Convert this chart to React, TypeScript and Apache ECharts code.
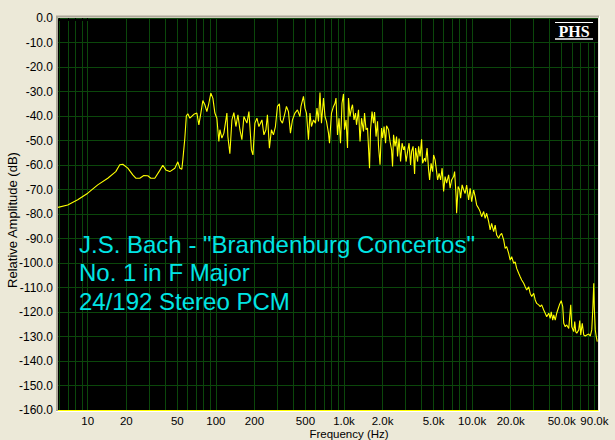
import React, { useEffect, useRef } from 'react';
import * as echarts from 'echarts';

// ---- data (frequency in Hz, relative amplitude in dB) ----
const freqHz: number[] = [
  5.86, 6.98, 8.35, 10, 11.97, 14.33, 16.55, 17.78, 18.77, 20.54, 22.47, 23.71, 25.48, 27.38, 29.43, 31.06, 33.38,
  36.52, 38.54, 40.68, 43.72, 47.83, 50.48, 52.33, 54.25, 55.23, 57.26, 58.82, 60.43, 62.64, 67.32, 71.05,
  73.65, 76.35, 79.15, 82.05, 85.05, 88.17, 91.4, 94.75, 98.22, 101.8, 105.5, 107.5, 111.4, 115.5, 121.9, 124.1,
  128.6, 133.4, 138.2, 143.3, 148.6, 154.0, 159.6, 165.5, 174.7, 181.1, 189.4, 194.6, 201.7, 209.1, 216.7, 228.8,
  237.1, 245.8, 252.5, 261.8, 271.4, 281.3, 291.6, 302.3, 313.4, 319.1, 330.8, 346.0, 355.5, 368.5, 382.0, 396.0,
  414.2, 433.2, 453.2, 461.4, 482.6, 495.8, 509.4, 528.0, 542.5, 557.3, 577.7, 598.9, 615.3, 632.1, 649.4, 667.1,
  691.6, 710.5, 729.9, 756.7, 770.4, 798.6, 827.9, 850.5, 866.0, 889.6, 914.0, 939.0, 964.7, 991.0,
  1009, 1037, 1065, 1084, 1114, 1144, 1165, 1197, 1230, 1252, 1298, 1334, 1370, 1420, 1446, 1486, 1526, 1554, 1582,
  1611, 1655, 1700, 1731, 1778, 1827, 1860, 1911, 1963, 1999, 2054, 2110, 2148, 2227, 2288, 2350, 2393, 2436, 2503,
  2571, 2618, 2690, 2763, 2839, 2916, 2969, 3051, 3134, 3220, 3308, 3368, 3460, 3555, 3619, 3752, 3820, 3924, 4032,
  4105, 4255, 4332, 4451, 4573, 4656, 4783, 4914, 5003, 5140, 5280, 5376, 5523, 5674, 5830, 5989, 6153, 6321, 6553,
  6732, 6916, 7169, 7299, 7499, 7567, 7774, 7986, 8131, 8354, 8582,
  8817, 9058, 9390, 9647, 9910, 10274, 10555, 10843, 11240, 11548, 11864, 12298, 12635, 12980, 13456, 13824, 14202,
  14722, 15125, 15538, 16107, 16548, 17001, 17623, 18105, 18600, 19282, 19809, 20351, 21097, 21674, 22266, 23082,
  23713, 24362, 25254, 25945, 26655, 27631, 28387, 29163, 30232, 31059, 31908, 33077, 33982, 34910, 36190, 37180,
  38197, 39597, 40680, 41418, 42551, 43323, 44508, 45725, 46556, 48261, 49581, 50937, 51862, 53280, 54737, 56743,
  57773, 58820, 59889, 62083, 63209, 64357, 65525, 67926, 69159, 70414, 72340, 74318, 76351, 78439, 81313, 83537,
  85821, 87378, 88964, 89768, 91398, 93057, 94746,
];

const ampDb: number[] = [
  -77.3, -76.3, -74.2, -71.5, -68.1, -65.4, -62.7, -59.9, -59.7, -61.3, -64.0, -65.4, -65.4, -64.3, -64.4, -65.4, -65.4,
  -62.2, -60.1, -62.0, -62.7, -61.3, -58.7, -61.3, -61.7, -57.9, -49.0, -39.9, -39.1, -40.9, -39.3, -38.8,
  -43.6, -38.8, -33.7, -35.4, -38.2, -34.8, -30.7, -32.7, -38.8, -40.9, -50.4, -45.6, -49.0, -47.0, -38.8, -48.4,
  -55.4, -41.6, -38.6, -44.3, -39.5, -45.6, -49.7, -40.2, -42.9, -38.2, -53.8, -55.9, -42.9, -40.9, -44.3, -41.6,
  -47.7, -45.6, -39.5, -53.1, -45.6, -47.7, -44.3, -36.1, -35.0, -41.6, -42.9, -38.8, -36.1, -38.2, -47.0, -41.6,
  -38.8, -37.5, -40.2, -36.1, -32.0, -36.8, -38.8, -49.7, -38.8, -44.3, -41.6, -42.9, -36.8, -42.2, -30.4, -42.9,
  -32.7, -40.2, -42.2, -47.0, -51.1, -38.8, -36.1, -34.8, -32.7, -47.7, -40.9, -51.1, -34.8, -31.0,
  -45.6, -41.6, -53.1, -32.7, -40.2, -36.8, -35.4, -41.6, -38.8, -43.6, -37.5, -50.4, -40.9, -46.3, -38.8, -45.6, -44.9, -53.1, -61.3,
  -45.6, -38.2, -42.9, -38.4, -48.4, -42.2, -52.4, -59.9, -44.9, -49.0, -44.3, -51.1, -44.0, -45.6, -50.4, -53.8, -60.6, -47.7, -52.4,
  -48.4, -56.5, -49.2, -58.6, -51.1, -53.8, -52.4, -58.6, -54.5, -51.1, -60.0, -54.5, -52.4, -63.7, -53.1, -58.6, -52.4, -56.5, -49.5,
  -59.3, -57.2, -58.6, -53.1, -62.0, -66.1, -59.3, -62.7, -55.9, -57.9, -62.7, -66.1, -63.4, -66.1, -61.3, -70.8, -64.7, -67.4, -64.0,
  -69.5, -66.1, -64.7, -62.7, -72.9, -79.7, -68.8, -70.1, -73.5, -68.1, -70.1,
  -71.6, -68.2, -74.3, -69.5, -75.0, -70.2, -72.9, -76.3, -77.7, -79.0, -81.1, -79.0, -81.8, -79.7, -83.1, -86.5, -83.8,
  -87.2, -84.5, -88.6, -89.9, -88.6, -87.9, -90.6, -94.0, -93.3, -96.1, -98.8, -97.4, -100.1, -99.5, -102.2, -104.2,
  -105.6, -106.9, -108.3, -109.7, -111.0, -109.7, -112.4, -113.7, -112.4, -115.1, -116.5, -117.1, -117.8, -117.1, -119.2, -120.5,
  -121.9, -120.5, -122.6, -119.9, -123.3, -121.2, -123.3, -120.5, -119.2, -116.7, -115.4, -117.8, -124.6, -126.0, -125.3, -126.7,
  -121.9, -117.1, -126.0, -128.0, -123.9, -128.0, -128.7, -127.3, -123.5, -129.4, -124.6, -129.4, -129.8, -129.4, -129.0, -129.8,
  -127.3, -119.2, -108.3, -117.8, -127.3, -130.1, -132.1,
];

// x axis range and grid / tick / label frequencies
const xMinHz = 5.86;
const xMaxHz = 96000;
const gridFreqs: number[] = [
  6, 7, 8, 9, 10, 20, 30, 40, 50, 60, 70, 80, 90, 100, 200, 300, 400, 500, 600, 700, 800, 900,
  1000, 2000, 3000, 4000, 5000, 6000, 7000, 8000, 9000, 10000, 20000, 30000, 40000, 50000, 60000, 70000, 80000, 90000,
];
const tickFreqs: number[] = [6, 7, 8, 9, 10];
const labelFreqs: number[] = [10, 20, 50, 100, 200, 500, 1000, 2000, 5000, 10000, 20000, 50000, 90000];

// y axis
const yMin = -160;
const yMax = 0;
const yStep = 10;

const annotationLines: string[] = [
  'J.S. Bach - "Brandenburg Concertos"',
  'No. 1 in F Major',
  '24/192 Stereo PCM',
];
const xTitle = 'Frequency (Hz)';
const yTitle = 'Relative Amplitude (dB)';
const logoText = 'PHS';

const GREEN = '#0b470b';
const YELLOW = '#ffff00';
const CYAN = '#00e4e4';
const BG = '#ece9d8';
const FONT = '"Liberation Sans", Arial, sans-serif';

function fmtHz(v: number): string {
  const f = Math.round(Math.pow(10, v));
  if (f >= 1000) return (f / 1000).toFixed(1) + 'k';
  return String(f);
}

export default function App() {
  const ref = useRef<HTMLDivElement>(null);

  useEffect(() => {
    if (!ref.current) return;
    const chart = echarts.init(ref.current, undefined, { renderer: 'svg' });
    const lg = Math.log10;
    const xmin = lg(xMinHz);
    const xmax = lg(xMaxHz);

    const seriesData = freqHz.map((f, i) => [lg(f), ampDb[i]]);

    const annotation = annotationLines.map((t, i) => ({
      type: 'text',
      x: 79,
      y: 244 + i * 28.5,
      z: 100,
      style: {
        text: t,
        fill: CYAN,
        fontSize: 24,
        fontFamily: FONT,
        align: 'left',
        verticalAlign: 'middle',
      },
    }));

    chart.setOption({
      animation: false,
      backgroundColor: BG,
      grid: {
        left: 58,
        top: 18,
        width: 540,
        height: 392,
        show: true,
        backgroundColor: '#000000',
        borderWidth: 0,
      },
      xAxis: [
        {
          type: 'value',
          min: xmin,
          max: xmax,
          position: 'bottom',
          axisLine: { show: true, onZero: false, lineStyle: { color: YELLOW, width: 1 } },
          axisTick: { show: false, customValues: gridFreqs.map(lg) },
          splitLine: { show: true, lineStyle: { color: GREEN, width: 1 } },
          axisLabel: {
            customValues: labelFreqs.map(lg),
            formatter: fmtHz,
            color: '#000',
            fontSize: 11.5,
            fontFamily: FONT,
            margin: 5,
            lineHeight: 11,
            showMinLabel: true,
            showMaxLabel: true,
            hideOverlap: false,
          },
        },
        {
          type: 'value',
          min: xmin,
          max: xmax,
          position: 'bottom',
          axisLine: { show: false },
          axisTick: {
            show: true,
            customValues: tickFreqs.map(lg),
            length: 3,
            lineStyle: { color: '#000', width: 1 },
          },
          splitLine: { show: false },
          axisLabel: { show: false },
        },
      ],
      yAxis: {
        type: 'value',
        min: yMin,
        max: yMax,
        interval: yStep,
        axisLine: { show: false },
        axisTick: { show: false },
        splitLine: { show: true, lineStyle: { color: GREEN, width: 1 } },
        axisLabel: {
          formatter: (v: number) => v.toFixed(1),
          color: '#000',
          fontSize: 12,
          fontFamily: FONT,
          margin: 5,
        },
      },
      series: [
        {
          type: 'line',
          data: seriesData,
          xAxisIndex: 0,
          showSymbol: false,
          symbol: 'none',
          clip: true,
          lineStyle: { color: YELLOW, width: 1.1 },
          z: 5,
        },
      ],
      graphic: [
        // bevel around the plot
        { type: 'line', z: 90, shape: { x1: 56, y1: 16.5, x2: 599, y2: 16.5 }, style: { stroke: '#aca899', lineWidth: 2 } },
        { type: 'line', z: 90, shape: { x1: 57, y1: 16, x2: 57, y2: 411 }, style: { stroke: '#aca899', lineWidth: 2 } },
        { type: 'line', z: 90, shape: { x1: 599.5, y1: 16, x2: 599.5, y2: 412 }, style: { stroke: '#ffffff', lineWidth: 1 } },
        { type: 'line', z: 90, shape: { x1: 56, y1: 411.5, x2: 600, y2: 411.5 }, style: { stroke: '#ffffff', lineWidth: 1 } },
        // PHS logo
        { type: 'rect', z: 95, shape: { x: 553, y: 19, width: 43, height: 23 }, style: { fill: '#000000' } },
        { type: 'line', z: 96, shape: { x1: 555, y1: 22.5, x2: 593, y2: 22.5 }, style: { stroke: '#ffffff', lineWidth: 1 } },
        { type: 'line', z: 96, shape: { x1: 555, y1: 39, x2: 593, y2: 39 }, style: { stroke: '#ffffff', lineWidth: 1.5 } },
        {
          type: 'text',
          z: 96,
          x: 574,
          y: 31,
          style: {
            text: logoText,
            fill: '#ffffff',
            fontSize: 16,
            fontWeight: 'bold',
            fontFamily: '"Liberation Serif", "Times New Roman", serif',
            align: 'center',
            verticalAlign: 'middle',
          },
        },
        ...annotation,
        {
          type: 'text',
          z: 100,
          x: 349,
          y: 433.5,
          style: {
            text: xTitle,
            fill: '#000',
            fontSize: 11.5,
            lineHeight: 11,
            fontFamily: FONT,
            align: 'center',
            verticalAlign: 'middle',
          },
        },
        {
          type: 'text',
          z: 100,
          x: 12.5,
          y: 220,
          rotation: Math.PI / 2,
          style: {
            text: yTitle,
            fill: '#000',
            fontSize: 13,
            fontFamily: FONT,
            align: 'center',
            verticalAlign: 'middle',
          },
        },
      ],
    });

    return () => {
      chart.dispose();
    };
  }, []);

  return (
    <div
      ref={ref}
      style={{ position: 'fixed', left: 0, top: 0, width: 615, height: 440, background: BG }}
    />
  );
}
